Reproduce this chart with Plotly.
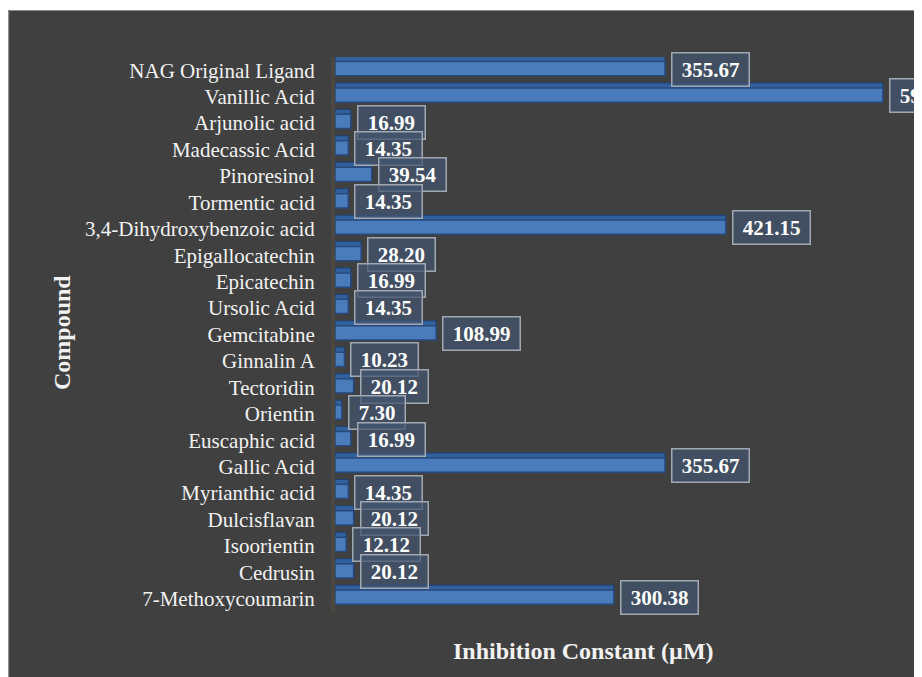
import plotly.graph_objects as go

compounds = [
    "NAG Original Ligand", "Vanillic Acid", "Arjunolic acid", "Madecassic Acid",
    "Pinoresinol", "Tormentic acid", "3,4-Dihydroxybenzoic acid", "Epigallocatechin",
    "Epicatechin", "Ursolic Acid", "Gemcitabine", "Ginnalin A", "Tectoridin",
    "Orientin", "Euscaphic acid", "Gallic Acid", "Myrianthic acid", "Dulcisflavan",
    "Isoorientin", "Cedrusin", "7-Methoxycoumarin",
]
ki_values = [
    355.67, 590.47, 16.99, 14.35, 39.54, 14.35, 421.15, 28.20, 16.99, 14.35,
    108.99, 10.23, 20.12, 7.30, 16.99, 355.67, 14.35, 20.12, 12.12, 20.12, 300.38,
]
x_title = "Inhibition Constant (µM)"
y_title = "Compound"

W, H = 922, 677
OFF = 8  # page body margin: figure origin sits at (8, 8) in the window
ML, MR, MT, MB = 327, 0, 49, 73
PW, PH = W - ML - MR, H - MT - MB
BG = "#404040"
FONT = "Liberation Serif, Times New Roman, serif"


def px_to_paper_x(px):
    return (px - OFF - ML) / PW


def px_to_paper_y(py):
    return (H - MB - (py - OFF)) / PH


fig = go.Figure()
# back / top face of the 3D bar
fig.add_trace(go.Bar(
    y=compounds, x=ki_values, orientation="h",
    width=0.72, offset=-0.52,
    marker=dict(color="#32609c", line=dict(color="#22416d", width=1.2)),
    hoverinfo="skip", showlegend=False,
))
# front face
fig.add_trace(go.Bar(
    y=compounds, x=ki_values, orientation="h",
    width=0.54, offset=-0.33,
    marker=dict(color="#4a7bbb", line=dict(color="#27497c", width=1.5)),
    showlegend=False,
))

annotations = []
for c, v in zip(compounds, ki_values):
    annotations.append(dict(
        x=v, y=c, xref="x", yref="y",
        text=f" {v:.2f} ", showarrow=False,
        xanchor="left", yanchor="middle", xshift=6, yshift=1,
        font=dict(family=FONT, size=21, color="#ffffff", weight="bold"),
        bgcolor="rgba(66,84,112,0.72)", bordercolor="#a2a8b2", borderwidth=1.5,
        borderpad=4,
    ))

annotations.append(dict(
    x=px_to_paper_x(583), y=px_to_paper_y(651), xref="paper", yref="paper",
    text=f"<b>{x_title}</b>", showarrow=False, xanchor="center", yanchor="middle",
    font=dict(family=FONT, size=24, color="#f2f2f2"),
))
annotations.append(dict(
    x=px_to_paper_x(62), y=px_to_paper_y(333), xref="paper", yref="paper",
    text=f"<b>{y_title}</b>", showarrow=False, xanchor="center", yanchor="middle",
    textangle=-90, font=dict(family=FONT, size=24, color="#f2f2f2"),
))

shapes = [
    # thin white strip at top and grey frame lines (top, left)
    dict(type="rect", xref="paper", yref="paper",
         x0=px_to_paper_x(OFF - 5), x1=px_to_paper_x(W + OFF + 5),
         y0=px_to_paper_y(10), y1=px_to_paper_y(OFF - 5),
         fillcolor="#ffffff", line=dict(width=0), layer="above"),
    dict(type="line", xref="paper", yref="paper",
         x0=px_to_paper_x(8.5), x1=px_to_paper_x(W + OFF + 5),
         y0=px_to_paper_y(10.5), y1=px_to_paper_y(10.5),
         line=dict(color="#8c8c8c", width=1.2), layer="above"),
    dict(type="line", xref="paper", yref="paper",
         x0=px_to_paper_x(8.6), x1=px_to_paper_x(8.6),
         y0=px_to_paper_y(10.5), y1=px_to_paper_y(H + OFF + 5),
         line=dict(color="#8c8c8c", width=1.2), layer="above"),
]

fig.update_layout(
    width=W, height=H,
    margin=dict(l=ML, r=MR, t=MT, b=MB, pad=0),
    paper_bgcolor=BG, plot_bgcolor=BG,
    barmode="overlay",
    showlegend=False,
    annotations=annotations,
    shapes=shapes,
    font=dict(family=FONT, color="#f2f2f2"),
)
fig.update_xaxes(
    range=[0, PW / 0.928], showgrid=False, zeroline=False,
    showticklabels=False, ticks="", showline=False, fixedrange=True,
)
fig.update_yaxes(
    range=[len(compounds) - 0.5, -0.5], showgrid=False, zeroline=False,
    ticks="", ticklabelstandoff=12,
    tickfont=dict(family=FONT, size=21, color="#f2f2f2"),
    showline=True, linecolor="#4a4841", linewidth=4, layer="below traces",
)

fig.write_html("out.html")
